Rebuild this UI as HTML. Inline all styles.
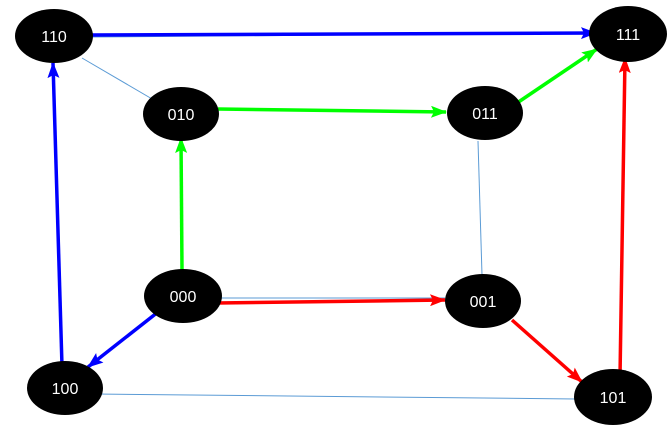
<!DOCTYPE html>
<html><head><style>html,body{margin:0;padding:0;background:#fff;width:672px;height:434px;overflow:hidden}</style></head>
<body>
<svg width="672" height="434" viewBox="0 0 672 434" xmlns="http://www.w3.org/2000/svg">
<defs>
<marker id="b" markerWidth="16" markerHeight="12" refX="15" refY="6" orient="auto" markerUnits="userSpaceOnUse" viewBox="0 0 16 12"><path d="M0,0 L16,6 L0,12 L3,6 Z" fill="#0000ff"/></marker>
<marker id="g" markerWidth="16" markerHeight="12" refX="15" refY="6" orient="auto" markerUnits="userSpaceOnUse" viewBox="0 0 16 12"><path d="M0,0 L16,6 L0,12 L3,6 Z" fill="#00ff00"/></marker>
<marker id="r" markerWidth="16" markerHeight="12" refX="15" refY="6" orient="auto" markerUnits="userSpaceOnUse" viewBox="0 0 16 12"><path d="M0,0 L16,6 L0,12 L3,6 Z" fill="#ff0000"/></marker>
</defs>
<g stroke="#5b9bd5" stroke-width="1" fill="none">
<line x1="82" y1="58" x2="159" y2="103"/>
<line x1="478" y1="141" x2="482" y2="275"/>
<line x1="95" y1="394" x2="576" y2="399"/>
<line x1="217" y1="298" x2="445" y2="298"/>
<line x1="90" y1="37" x2="592" y2="33"/>
</g>
<g fill="none" stroke-width="3.5">
<line x1="90" y1="35" x2="596" y2="33" stroke="#0000ff" marker-end="url(#b)"/>
<line x1="62" y1="366" x2="53" y2="63" stroke="#0000ff" marker-end="url(#b)"/>
<line x1="158" y1="312" x2="88" y2="367" stroke="#0000ff" marker-end="url(#b)"/>
<line x1="182" y1="270" x2="181" y2="138" stroke="#00ff00" marker-end="url(#g)"/>
<line x1="218" y1="109" x2="446" y2="112" stroke="#00ff00" marker-end="url(#g)"/>
<line x1="517" y1="103" x2="597" y2="49" stroke="#00ff00" marker-end="url(#g)"/>
<line x1="217" y1="303" x2="445" y2="300" stroke="#ff0000" marker-end="url(#r)"/>
<line x1="512" y1="320" x2="582" y2="382" stroke="#ff0000" marker-end="url(#r)"/>
<line x1="620" y1="377" x2="625" y2="58" stroke="#ff0000" marker-end="url(#r)"/>
</g>
<g fill="#000">
<ellipse cx="54" cy="36" rx="39" ry="27"/>
<ellipse cx="628" cy="34" rx="39" ry="28"/>
<ellipse cx="181" cy="114" rx="38" ry="27"/>
<ellipse cx="485" cy="113" rx="38" ry="27"/>
<ellipse cx="183" cy="296" rx="39" ry="27"/>
<ellipse cx="483" cy="301" rx="38" ry="27"/>
<ellipse cx="65" cy="388" rx="38" ry="27"/>
<ellipse cx="613" cy="397" rx="39" ry="28"/>
</g>
<g fill="#fff" font-family="Liberation Sans, sans-serif" font-size="16" text-anchor="middle">
<text x="54" y="42">110</text>
<text x="628" y="40">111</text>
<text x="181" y="120">010</text>
<text x="485" y="119">011</text>
<text x="183" y="302">000</text>
<text x="483" y="307">001</text>
<text x="65" y="394">100</text>
<text x="613" y="403">101</text>
</g>
</svg>
</body></html>
